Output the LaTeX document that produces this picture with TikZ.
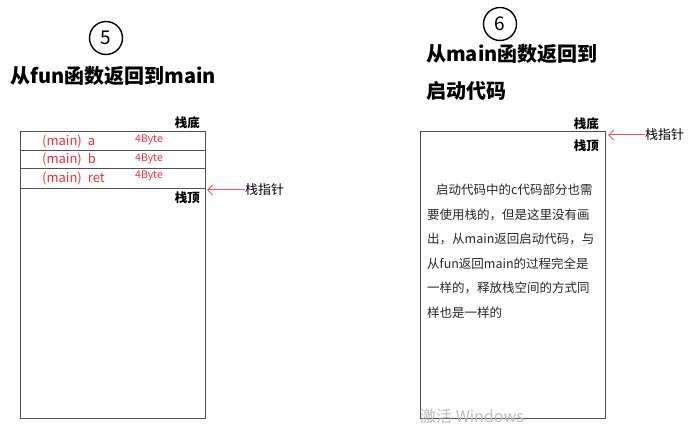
\documentclass[tikz,border=0pt]{standalone}
\usepackage{fontspec}
\setmainfont{Noto Sans CJK SC}
\usetikzlibrary{positioning,arrows.meta}
\definecolor{rojo}{HTML}{E8313C}
\definecolor{flecha}{HTML}{F2545B}
\definecolor{borde}{HTML}{505050}
\definecolor{marca}{HTML}{BDBDBD}

\tikzset{
  paso/.style={draw,circle,line width=1.4pt,minimum size=33pt,inner sep=0pt,font=\fontsize{19}{19}\selectfont},
  titulo/.style={anchor=west,inner sep=0pt,font=\bfseries\fontsize{20}{37}\selectfont,align=left},
  pila/.style={draw=borde,line width=0.9pt},
  etiq/.style={anchor=east,inner sep=0pt,font=\bfseries\fontsize{12.5}{12.5}\selectfont},
  puntero/.style={anchor=west,inner sep=0pt,font=\fontsize{13}{13}\selectfont},
  var/.style={anchor=west,inner sep=0pt,text=rojo,font=\fontsize{13}{13}\selectfont},
  tam/.style={anchor=west,inner sep=0pt,text=rojo,font=\fontsize{10.5}{10.5}\selectfont},
  flechita/.style={draw=flecha,line width=1pt,-{Straight Barb[length=5pt,width=10pt]}}
}

\begin{document}
\begin{tikzpicture}[x=1pt,y=-1pt]
\useasboundingbox (0,0) rectangle (688,427);

% paso 5: de fun a main
\node[paso] (cinco) at (106,38) {5};
\node[titulo] (titA) at (10,76) {从fun函数返回到main};

\draw[pila] (20,131) rectangle (205,418);
\foreach \y in {150,168,188} \draw[pila] (20,\y) -- (205,\y);
\foreach \y/\nombre/\yt in {141/a/140,159/b/159,178/ret/176} {
  \node[var] at (42,\y) {(main)\hspace{6pt}\nombre};
  \node[tam] at (135,\yt) {4Byte};
}
\node[etiq] (fondoA) at (200,123) {栈底};
\node[etiq] (topeA) at (200,198) {栈顶};
\node[puntero] (sp1) at (245,190) {栈指针};
\coordinate (bordeA) at (207,190);
\draw[flechita] (sp1.west) -- (bordeA);

% paso 6: de main al codigo de arranque
\node[paso] (seis) at (500,24) {6};
\node[titulo,anchor=north west] (titB) at (426,44) {从main函数返回到\\启动代码};

\draw[pila] (420,131) rectangle (605,418);
\node[etiq] (fondoB) at (599,124) {栈底};
\node[etiq] (topeB) at (599,146) {栈顶};
\node[puntero] (sp2) at (645,135) {栈指针};
\coordinate (bordeB) at (608,135);
\draw[flechita] (sp2.west) -- (bordeB);

\node[anchor=north west,inner sep=0pt,align=left,text=black!85,
  font=\fontsize{12.5}{24.5}\selectfont] (nota) at (427,184)
  {\hspace{9pt}启动代码中的c代码部分也需\\
   要使用栈的，但是这里没有画\\
   出，从main返回启动代码，与\\
   从fun返回main的过程完全是\\
   一样的，释放栈空间的方式同\\
   样也是一样的};

\node[anchor=west,inner sep=0pt,text=marca,font=\fontsize{16}{16}\selectfont] (aviso) at (420,416) {激活 Windows};
\end{tikzpicture}
\end{document}
